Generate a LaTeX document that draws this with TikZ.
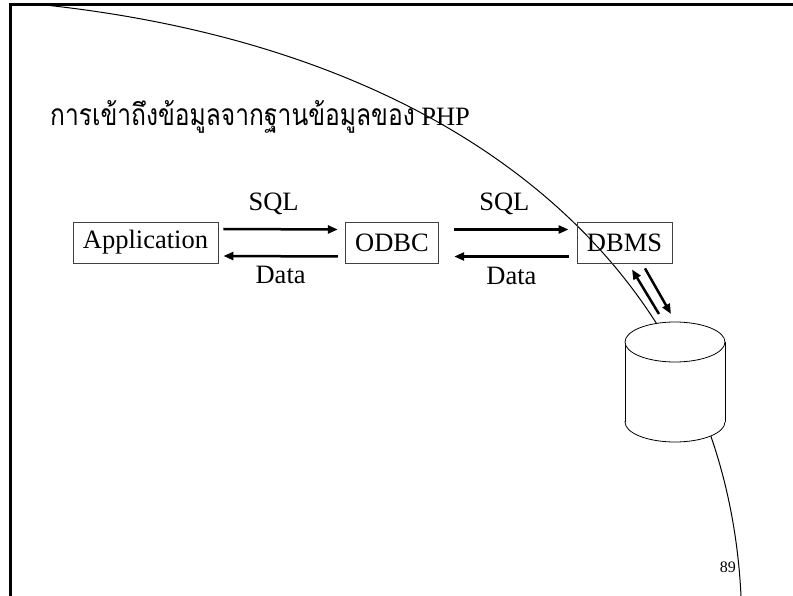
\documentclass[tikz,border=0pt]{standalone}
\usepackage{fontspec}
\setmainfont{Liberation Serif}
\newfontfamily\thaifont[Script=Thai]{Loma}
\usetikzlibrary{arrows.meta,positioning}

\tikzset{
	blk/.style={draw=black!75, line width=0.8pt, inner xsep=10pt, inner ysep=0pt, minimum height=41pt, font=\fontsize{26.5}{26.5}\selectfont},
	lbl/.style={inner sep=0pt, font=\fontsize{26.5}{26.5}\selectfont},
	flow/.style={line width=2.5pt, -{Triangle[length=10pt,width=8pt]}}
}

\begin{document}
\begin{tikzpicture}[x=1pt, y=-1pt]
			%%%%% START %%%%%
			\useasboundingbox (0, 0) rectangle (793, 596);
			
			% sweeping curve of the slide background
			\draw[line width=1pt] (45, 5) .. controls (470, 51) and (725.6, 276) .. (741, 596);
			
			% slide frame
			\draw[line width=3pt] (10, 596) -- (10, 5) -- (793, 5);
			
			% title
			\node[anchor=base west, inner sep=0pt] (title) at (50, 126) {\scalebox{0.82}[1]{\thaifont\fontsize{30}{30}\selectfont การเข้าถึงข้อมูลจากฐานข้อมูลของ}\fontsize{26.5}{26.5}\selectfont\ PHP};
			
			% boxes
			\node[blk] (app) at (145.5, 242.5) {Application};
			\node[blk] (odbc) at (392, 243) {ODBC};
			\node[blk] (dbms) at (624.5, 243) {DBMS};
			
			\draw[flow] ([xshift=5pt, yshift=13.5pt]app.east) -- ([xshift=-7pt, yshift=13.5pt]odbc.west)
				node[lbl, midway, above=13pt, xshift=-7pt] (sql1) {SQL};
			\draw[flow] ([xshift=-7pt, yshift=-13.5pt]odbc.west) -- ([xshift=5pt, yshift=-13.5pt]app.east)
				node[lbl, midway, below=9pt] (data1) {Data};
			
			\draw[flow] ([xshift=15pt, yshift=13.5pt]odbc.east) -- ([xshift=-8pt, yshift=13.5pt]dbms.west)
				node[lbl, midway, above=13pt, xshift=-7pt] (sql2) {SQL};
			\draw[flow] ([xshift=-8pt, yshift=-13.5pt]dbms.west) -- ([xshift=15pt, yshift=-13.5pt]odbc.east)
				node[lbl, midway, below=9pt] (data2) {Data};
			
			% database cylinder
			\draw[line width=0.8pt, fill=white] (675, 422) ellipse (50 and 20);
			\fill[white] (625.4, 342) rectangle (724.6, 422);
			\draw[line width=0.8pt] (625, 342) -- (625, 422);
			\draw[line width=0.8pt] (725, 342) -- (725, 422);
			\draw[line width=0.8pt, fill=white] (675, 342) ellipse (50 and 20);
			\coordinate (db) at (675, 322);
			
			\draw[flow] ([xshift=-16pt, yshift=8pt]db) -- ([xshift=7.5pt, yshift=-5.5pt]dbms.south);
			\draw[flow] ([xshift=20.5pt, yshift=-4.5pt]dbms.south) -- ([xshift=-4pt, yshift=8pt]db);
			
			% page number
			\node[anchor=base east, inner sep=0pt, font=\fontsize{16}{16}\selectfont] (pg) at (736, 572) {89};
			
			%%%%% END %%%%%
		\end{tikzpicture}
\end{document}
